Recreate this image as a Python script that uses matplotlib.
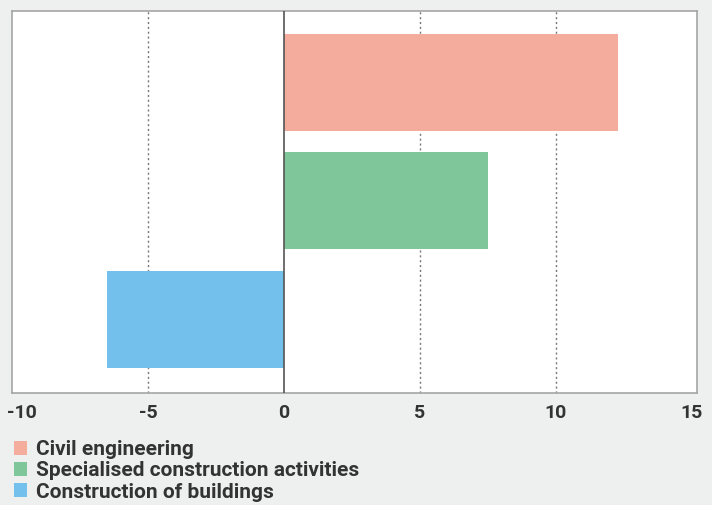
import matplotlib.pyplot as plt
from matplotlib.patches import Patch
from matplotlib.transforms import ScaledTranslation

categories = ["Construction of buildings", "Specialised construction activities", "Civil engineering"]
values = [-6.5, 7.5, 12.3]
colors = ["#74c0ec", "#80c69b", "#f4ad9d"]
legend_order = ["Civil engineering", "Specialised construction activities", "Construction of buildings"]
x_ticks = [-10, -5, 0, 5, 10, 15]

plt.rcParams["font.family"] = ["Roboto", "DejaVu Sans"]

fig = plt.figure(figsize=(7.12, 5.05), dpi=100)
fig.patch.set_facecolor("#eef0ef")
ax = fig.add_axes([0.017, 0.222, 0.962, 0.756])
ax.set_facecolor("white")

positions = range(len(categories))
ax.barh(positions, values, height=0.82, color=colors, zorder=2)

ax.set_xlim(-10, 15.2)
ax.set_ylim(-0.62, 2.6)
ax.set_yticks([])
ax.set_xticks(x_ticks)
ax.set_xticklabels([str(t) for t in x_ticks], fontsize=14, fontweight="semibold", color="#333333")
ax.tick_params(axis="x", length=0, pad=8)

# keep the leftmost label inside the figure
first = ax.get_xticklabels()[0]
first.set_horizontalalignment("left")
first.set_transform(first.get_transform() + ScaledTranslation(-0.05, 0, fig.dpi_scale_trans))

for tick in x_ticks:
    if tick in (-10, 15):
        continue
    if tick == 0:
        ax.axvline(0, color="#555555", linewidth=1.2, zorder=3)
    else:
        ax.axvline(tick, color="#777777", linewidth=1, linestyle=(0, (1.5, 2)), zorder=1)

for spine in ax.spines.values():
    spine.set_color("#a5a5a5")
    spine.set_linewidth(1.2)

color_map = dict(zip(categories, colors))
handles = [Patch(facecolor=color_map[name], label=name) for name in legend_order]
fig.legend(
    handles=handles,
    loc="upper left",
    bbox_to_anchor=(0.019, 0.128),
    bbox_transform=fig.transFigure,
    frameon=False,
    handlelength=0.65,
    handleheight=0.65,
    handletextpad=0.43,
    labelspacing=0.1,
    borderaxespad=0,
    borderpad=0,
    labelcolor="#333333",
    prop={"weight": "semibold", "size": 15},
)

fig.savefig("out.png", dpi=100, facecolor=fig.get_facecolor())
